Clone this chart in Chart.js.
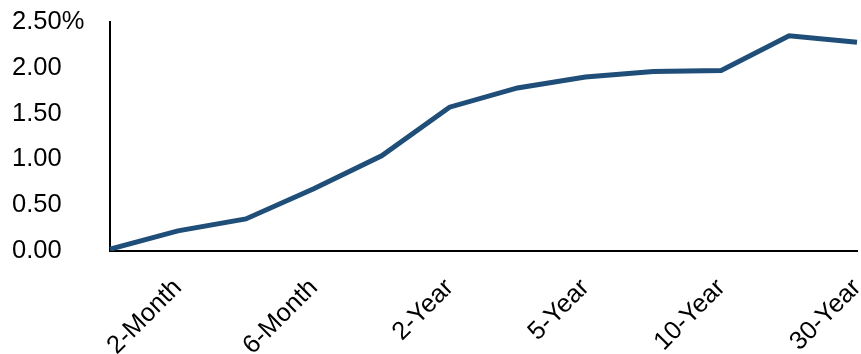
<!DOCTYPE html>
<html>
<head>
<meta charset="utf-8">
<script src="https://cdn.jsdelivr.net/npm/chart.js@4/dist/chart.umd.min.js"></script>
<style>
  html, body { margin: 0; padding: 0; background: #fff; }
  #wrap { width: 861px; height: 354px; }
</style>
</head>
<body>
<div id="wrap"><canvas id="c"></canvas></div>
<script>
// Treasury yield curve by maturity
const maturities = ['1-Month', '2-Month', '3-Month', '6-Month', '1-Year', '2-Year',
                    '3-Year', '5-Year', '7-Year', '10-Year', '20-Year', '30-Year'];
const yields = [0.02, 0.22, 0.35, 0.68, 1.04, 1.57, 1.78, 1.90, 1.96, 1.97, 2.35, 2.28];
const yTicks = [0, 0.5, 1.0, 1.5, 2.0, 2.5];

const FONT = { family: '"Liberation Sans", Arial, sans-serif', size: 25.5 };

new Chart(document.getElementById('c'), {
  type: 'line',
  data: {
    labels: maturities,
    datasets: [{
      data: yields,
      borderColor: '#1F4E79',
      borderWidth: 5,
      tension: 0,
      pointRadius: 0,
      fill: false
    }]
  },
  options: {
    responsive: true,
    maintainAspectRatio: false,
    animation: false,
    layout: { padding: { left: 12, right: 4, top: 22, bottom: 0 } },
    plugins: { legend: { display: false }, tooltip: { enabled: false } },
    scales: {
      x: {
        offset: false,
        grid: { display: false },
        border: { display: true, color: '#000', width: 2 },
        ticks: {
          autoSkip: false,
          maxRotation: 45,
          minRotation: 45,
          padding: 14,
          color: '#000',
          font: FONT,
          callback: (v, i) => (i % 2 === 1 ? maturities[i] : '')
        },
        afterFit: (s) => { s.height = 103; s.paddingLeft = 0; s.paddingRight = 0; }
      },
      y: {
        min: 0,
        max: 2.5,
        grid: { display: false },
        border: { display: true, color: '#000', width: 2 },
        afterBuildTicks: (s) => { s.ticks = yTicks.map(v => ({ value: v })); },
        afterFit: (s) => { s.width = 98; s.paddingTop = 0; s.paddingBottom = 0; },
        ticks: {
          crossAlign: 'far',
          padding: 26,
          color: '#000',
          font: FONT,
          callback: (v) => v.toFixed(2) + (v === 2.5 ? '%' : '')
        }
      }
    }
  }
});
</script>
</body>
</html>
